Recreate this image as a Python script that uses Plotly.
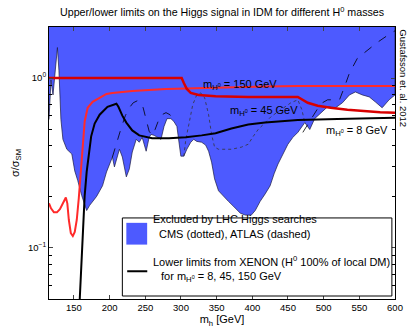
import plotly.graph_objects as go

# excluded region lower edge (union of CMS and ATLAS limits)
excl_mh = [115, 117.8, 120.6, 123.3, 126.8, 128.9, 131.7, 134.5, 140.0, 147.0, 151.1, 155.3,
           160.9, 167.8, 172.0, 181.7, 190.0, 195.6, 199.8, 203.9, 206.7, 209.5, 213.7, 217.8,
           223.4, 227.6, 231.7, 237.3, 241.5, 245.6, 251.2, 255.4, 258.1, 262.3, 266.5, 272.0,
           276.2, 280.4, 285.9, 290.1, 294.3, 297.0, 299.8, 304.0, 308.2, 313.7, 317.9, 322.1,
           329.0, 334.6, 338.7, 342.9, 347.1, 352.6, 359.6, 366.5, 373.5, 383.2, 390.2, 398.5,
           404.1, 411.0, 418.0, 424.9, 430.5, 436.0, 443.0, 449.9, 456.9, 463.8, 473.6, 480.5,
           487.4, 495.8, 505.5, 516.6, 526.4, 536.1, 544.5, 554.2, 563.9, 572.3, 582.0, 591.7, 600]
excl_mu = [0.570, 0.974, 0.796, 1.084, 1.514, 1.113, 0.570, 0.436, 0.381, 0.357, 0.284, 0.249,
           0.203, 0.166, 0.178, 0.201, 0.232, 0.280, 0.312, 0.343, 0.300, 0.334, 0.381, 0.343,
           0.262, 0.292, 0.367, 0.436, 0.419, 0.448, 0.371, 0.448, 0.466, 0.460, 0.448, 0.436,
           0.519, 0.577, 0.577, 0.555, 0.519, 0.436, 0.347, 0.347, 0.381, 0.419, 0.436, 0.424,
           0.419, 0.403, 0.371, 0.320, 0.255, 0.217, 0.201, 0.188, 0.176, 0.160, 0.156, 0.156,
           0.166, 0.188, 0.208, 0.232, 0.273, 0.312, 0.357, 0.408, 0.448, 0.479, 0.547, 0.498,
           0.577, 0.626, 0.678, 0.669, 0.716, 0.796, 0.829, 0.796, 0.775, 0.725, 0.669, 0.745, 0.796]

# CMS (dotted) where it lies above the edge
cms_mh = [304.0, 306.8, 311.0, 316.5, 322.1, 327.6, 333.2, 338.7, 342.9, 347.1, 352.6, 370.7,
          384.6, 394.3, 401.3, 408.2, 418.0, 426.3, 436.0, 445.8, 454.1, 463.8, 469.4, 473.6]
cms_mu = [0.347, 0.436, 0.533, 0.697, 0.796, 0.818, 0.765, 0.609, 0.466, 0.392, 0.381, 0.381,
          0.392, 0.408, 0.454, 0.498, 0.547, 0.593, 0.634, 0.678, 0.716, 0.745, 0.652, 0.547]

# ATLAS (dashed), two visible pieces
atlas_lo_mh = [203.9, 210.9, 216.4, 222.0, 227.6, 233.1, 238.7, 242.9, 247.0, 251.2, 255.4,
               259.5, 263.7, 267.9, 273.4, 279.0, 284.5, 290.1]
atlas_lo_mu = [0.343, 0.436, 0.512, 0.601, 0.669, 0.716, 0.735, 0.725, 0.669, 0.570, 0.486,
               0.460, 0.498, 0.555, 0.609, 0.626, 0.609, 0.555]
atlas_hi_mh = [470.8, 481.9, 495.8, 505.5, 522.2, 529.1, 536.1, 547.2, 561.1, 575.0, 593.1, 600]
atlas_hi_mu = [0.479, 0.570, 0.706, 0.745, 0.745, 0.886, 1.069, 1.307, 1.455, 1.620, 1.827, 1.90]

# XENON lower limits
m8_mh = [158.1, 160.9, 162.9, 165.0, 167.8, 170.6, 174.1, 179.0, 186.0, 197.0, 209.5, 212.3,
         217.8, 223.4, 231.7, 241.5, 259.5, 283.2, 306.8, 329.0, 348.5, 370.7, 394.3, 418.0,
         440.2, 463.8, 519.4, 600]
m8_mu = [0.05, 0.084, 0.131, 0.203, 0.280, 0.357, 0.454, 0.540, 0.609, 0.678, 0.706, 0.678,
         0.601, 0.547, 0.492, 0.460, 0.442, 0.442, 0.448, 0.460, 0.473, 0.505, 0.533, 0.547,
         0.555, 0.566, 0.574, 0.585]

m45_mh = [115, 117.8, 121.9, 126.1, 130.3, 134.5, 138.6, 140.7, 142.8, 145.6, 148.4, 151.1,
          153.9, 156.7, 159.5, 162.2, 165.0, 169.2, 176.1, 185.9, 195.6, 203.9, 231.7, 279.0,
          324.8, 370.7, 418.0, 463.8, 533.3, 600]
m45_mu = [0.183, 0.171, 0.162, 0.162, 0.169, 0.183, 0.198, 0.183, 0.146, 0.122, 0.1174, 0.124,
          0.146, 0.195, 0.273, 0.408, 0.555, 0.669, 0.725, 0.765, 0.807, 0.818, 0.840, 0.863,
          0.875, 0.886, 0.892, 0.898, 0.898, 0.898]

m150_mh = [115, 301, 304.0, 308.2, 313.7, 324.8, 348.5, 394.3, 463.8, 470.8, 477.7, 491.6,
           509.7, 533.3, 557.0, 579.2, 600]
m150_mu = [1.0, 1.0, 0.935, 0.863, 0.818, 0.796, 0.781, 0.775, 0.775, 0.745, 0.716, 0.688,
           0.669, 0.652, 0.639, 0.630, 0.626]

x_ticks = [150, 200, 250, 300, 350, 400, 450, 500, 550, 600]
y_ticks = [0.1, 1]
y_ticktext = ["10<sup>\u22121</sup>", "10<sup>0</sup>"]
y_minor = [0.05, 0.06, 0.07, 0.08, 0.09, 0.2, 0.3, 0.4, 0.5, 0.6, 0.7, 0.8, 0.9, 2]

BLUE = "#4d5aff"
FONT = "Liberation Sans, Arial, sans-serif"

fig = go.Figure()

fig.add_trace(go.Scatter(
    x=excl_mh + [600, 115], y=excl_mu + [3, 3],
    fill="toself", fillcolor=BLUE, mode="lines",
    line=dict(color="#1a1a40", width=0.7),
))
fig.add_trace(go.Scatter(x=cms_mh, y=cms_mu, mode="lines",
                         line=dict(color="#333333", width=0.8, dash="dot")))
fig.add_trace(go.Scatter(x=atlas_lo_mh, y=atlas_lo_mu, mode="lines",
                         line=dict(color="black", width=0.8, dash="dash")))
fig.add_trace(go.Scatter(x=atlas_hi_mh, y=atlas_hi_mu, mode="lines",
                         line=dict(color="black", width=0.8, dash="dash")))
fig.add_trace(go.Scatter(x=m45_mh, y=m45_mu, mode="lines",
                         line=dict(color="#ff2a2a", width=2)))
fig.add_trace(go.Scatter(x=m150_mh, y=m150_mu, mode="lines",
                         line=dict(color="#d80000", width=2.5)))
fig.add_trace(go.Scatter(x=m8_mh, y=m8_mu, mode="lines",
                         line=dict(color="black", width=2)))

ann = dict(showarrow=False, font=dict(family=FONT, size=11, color="black"))
anns = [
    dict(text="Upper/lower limits on the Higgs signal in IDM for different H<sup>0</sup> masses",
         xref="paper", yref="paper", x=0.5, y=1.025, yanchor="bottom", xanchor="center",
         font=dict(family=FONT, size=10.7, color="black")),
    dict(text="m<sub>H<sup>0</sup></sub> = 150 GeV", xref="paper", yref="paper",
         x=0.553, y=0.82, xanchor="center"),
    dict(text="m<sub>H<sup>0</sup></sub> = 45 GeV", xref="paper", yref="paper",
         x=0.622, y=0.725, xanchor="center"),
    dict(text="m<sub>H<sup>0</sup></sub> = 8 GeV", xref="paper", yref="paper",
         x=0.891, y=0.617, xanchor="center"),
    dict(text="Gustafsson et. al. 2012", xref="paper", yref="paper", x=1.025, y=1.0,
         textangle=90, xanchor="center", yanchor="top",
         font=dict(family=FONT, size=9.5, color="black")),
    dict(text="Excluded by LHC Higgs searches", xref="paper", yref="paper",
         x=0.295, y=0.265, xanchor="left"),
    dict(text="CMS (dotted), ATLAS (dashed)", xref="paper", yref="paper",
         x=0.312, y=0.211, xanchor="left"),
    dict(text="Lower limits from XENON (H<sup>0</sup> 100% of local DM)", xref="paper",
         yref="paper", x=0.295, y=0.108, xanchor="left"),
    dict(text="for m<sub>H<sup>0</sup></sub> = 8, 45, 150 GeV", xref="paper", yref="paper",
         x=0.318, y=0.048, xanchor="left"),
]
fig.update_layout(annotations=[{**ann, **a} for a in anns])

fig.update_layout(shapes=[
    dict(type="rect", xref="paper", yref="paper", x0=0.212, x1=0.991, y0=0.011, y1=0.298,
         fillcolor="white", line=dict(color="black", width=1), layer="above"),
    dict(type="rect", xref="paper", yref="paper", x0=0.2235, x1=0.2837, y0=0.2, y1=0.28,
         fillcolor=BLUE, line=dict(width=0), layer="above"),
    dict(type="line", xref="paper", yref="paper", x0=0.226, x1=0.284, y0=0.102, y1=0.102,
         line=dict(color="black", width=2), layer="above"),
])

fig.update_xaxes(
    range=[115, 600], tickvals=x_ticks, ticks="inside", ticklen=4, mirror="ticks",
    showline=True, linecolor="black", linewidth=1, showgrid=False, zeroline=False,
    tickfont=dict(family=FONT, size=9.5, color="black"),
    title=dict(text="m<sub>h</sub> [GeV]", font=dict(family=FONT, size=11, color="black"),
               standoff=2),
)
fig.update_yaxes(
    type="log", range=[-1.30103, 0.30103], tickvals=y_ticks, ticktext=y_ticktext,
    ticks="inside", ticklen=4, mirror="ticks", showline=True, linecolor="black",
    linewidth=1, showgrid=False, zeroline=False,
    minor=dict(tickvals=y_minor, ticks="inside", ticklen=3, tickcolor="black", showgrid=False),
    tickfont=dict(family=FONT, size=9.5, color="black"),
    title=dict(text="\u03c3/\u03c3<sub>SM</sub>", font=dict(family=FONT, size=11, color="black"),
               standoff=6),
)
fig.update_layout(
    width=415, height=335, showlegend=False,
    margin=dict(l=49, r=17, t=27, b=33),
    paper_bgcolor="white", plot_bgcolor="white",
)

# page body margin would otherwise push the figure 8px down and right
fig.write_html(
    "out.html",
    config={"displayModeBar": False},
    post_script="document.body.style.margin='0';"
                "document.documentElement.style.overflow='hidden';",
)
